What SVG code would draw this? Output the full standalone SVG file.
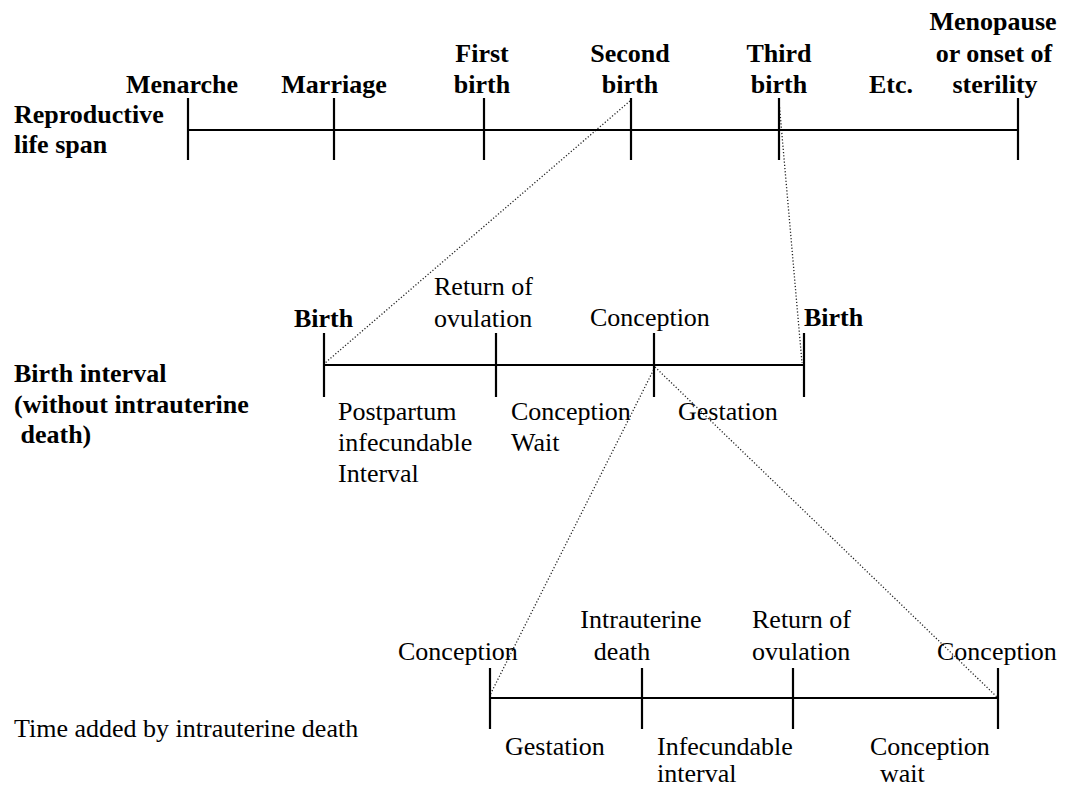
<svg xmlns="http://www.w3.org/2000/svg" width="1082" height="787" viewBox="0 0 1082 787">
<style>
text{font-family:"Liberation Serif","Times New Roman",serif;font-size:26px;fill:#000}
.b{font-weight:bold}
.m{text-anchor:middle}
.ax{stroke:#000;stroke-width:2.2;fill:none}
.dot{stroke:#222;stroke-width:1.3;stroke-dasharray:1.2 2;fill:none}
</style>
<rect width="1082" height="787" fill="#fff"/>
<g id="connectors">
<line class="dot" x1="630" y1="101" x2="325" y2="363"/>
<line class="dot" x1="779" y1="101" x2="802" y2="363"/>
<line class="dot" x1="655" y1="367" x2="490" y2="695"/>
<line class="dot" x1="655" y1="367" x2="997" y2="697"/>
</g>
<g id="reproductive-life-span">
<text class="b" x="14" y="123">Reproductive</text>
<text class="b" x="14" y="153">life span</text>
<line class="ax" x1="188" y1="130" x2="1018" y2="130"/>
<g id="menarche"><line class="ax" x1="188" y1="98" x2="188" y2="160"/><text class="b m" x="182" y="93">Menarche</text></g>
<g id="marriage"><line class="ax" x1="334" y1="98" x2="334" y2="160"/><text class="b m" x="334" y="93">Marriage</text></g>
<g id="first-birth"><line class="ax" x1="484" y1="98" x2="484" y2="160"/><text class="b m" x="482" y="62">First</text><text class="b m" x="482" y="93">birth</text></g>
<g id="second-birth"><line class="ax" x1="631" y1="98" x2="631" y2="160"/><text class="b m" x="630" y="62">Second</text><text class="b m" x="630" y="93">birth</text></g>
<g id="third-birth"><line class="ax" x1="779" y1="98" x2="779" y2="160"/><text class="b m" x="779" y="62">Third</text><text class="b m" x="779" y="93">birth</text></g>
<g id="etc"><text class="b m" x="891" y="93">Etc.</text></g>
<g id="menopause"><line class="ax" x1="1018" y1="98" x2="1018" y2="160"/><text class="b m" x="993" y="30">Menopause</text><text class="b m" x="994" y="62">or onset of</text><text class="b m" x="995" y="93">sterility</text></g>
</g>
<g id="birth-interval">
<text class="b" x="14" y="382">Birth interval</text>
<text class="b" x="14" y="413">(without intrauterine</text>
<text class="b" x="14" y="443" xml:space="preserve"> death)</text>
<line class="ax" x1="324" y1="365" x2="804" y2="365"/>
<g id="birth-start"><line class="ax" x1="324" y1="333" x2="324" y2="397"/><text class="b" x="294" y="327">Birth</text></g>
<g id="return-ovulation-1"><line class="ax" x1="496" y1="333" x2="496" y2="397"/><text x="434" y="295">Return of</text><text x="434" y="327">ovulation</text></g>
<g id="conception-1"><line class="ax" x1="654" y1="333" x2="654" y2="397"/><text x="590" y="326">Conception</text></g>
<g id="birth-end"><line class="ax" x1="804" y1="333" x2="804" y2="397"/><text class="b" x="804" y="326">Birth</text></g>
<g id="postpartum"><text x="338" y="420">Postpartum</text><text x="338" y="451">infecundable</text><text x="338" y="482">Interval</text></g>
<g id="conception-wait-1"><text x="511" y="420">Conception</text><text x="511" y="451">Wait</text></g>
<g id="gestation-1"><text x="678" y="420">Gestation</text></g>
</g>
<g id="time-added">
<text x="14" y="737">Time added by intrauterine death</text>
<line class="ax" x1="490" y1="698" x2="998" y2="698"/>
<g id="conception-2"><line class="ax" x1="490" y1="668" x2="490" y2="729"/><text x="398" y="660">Conception</text></g>
<g id="intrauterine-death"><line class="ax" x1="642" y1="668" x2="642" y2="729"/><text class="m" x="641" y="628">Intrauterine</text><text class="m" x="622" y="660">death</text></g>
<g id="return-ovulation-2"><line class="ax" x1="793" y1="668" x2="793" y2="729"/><text x="752" y="628">Return of</text><text x="752" y="660">ovulation</text></g>
<g id="conception-3"><line class="ax" x1="998" y1="668" x2="998" y2="729"/><text x="937" y="660">Conception</text></g>
<g id="gestation-2"><text x="505" y="755">Gestation</text></g>
<g id="infecundable"><text x="657" y="755">Infecundable</text><text x="657" y="782">interval</text></g>
<g id="conception-wait-2"><text x="870" y="755">Conception</text><text x="880" y="782">wait</text></g>
</g>
</svg>
